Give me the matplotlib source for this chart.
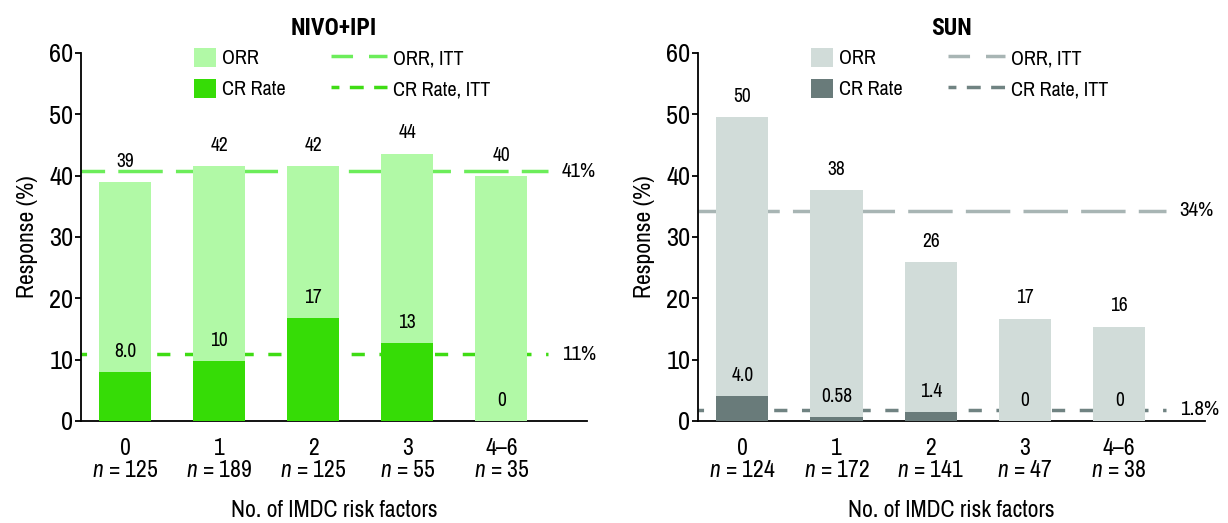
import matplotlib
matplotlib.use("Agg")
import matplotlib.pyplot as plt
from matplotlib.patches import Patch
from matplotlib.lines import Line2D

FONT = 'Archivo Narrow'
TITLE_FONT = ['Roboto Condensed', 'IBM Plex Sans Condensed', 'Fira Sans Condensed', FONT]
plt.rcParams['font.family'] = [FONT, 'DejaVu Sans']
plt.rcParams['mathtext.fontset'] = 'custom'
plt.rcParams['mathtext.it'] = FONT + ':italic'
plt.rcParams['mathtext.rm'] = FONT
plt.rcParams['lines.scale_dashes'] = False

# ------------------------------
# Data
# ------------------------------
risk_factors = ["0", "1", "2", "3", "4\u20136"]

nivo_n = [125, 189, 125, 55, 35]
nivo_orr = [38.9, 41.6, 41.5, 43.6, 40.0]
nivo_cr = [8.0, 9.8, 16.8, 12.7, 0.0]
nivo_orr_labels = ["39", "42", "42", "44", "40"]
nivo_cr_labels = ["8.0", "10", "17", "13", "0"]
nivo_orr_itt = 40.7
nivo_cr_itt = 10.9
nivo_itt_labels = ["41%", "11%"]

sun_n = [124, 172, 141, 47, 38]
sun_orr = [49.6, 37.6, 25.9, 16.7, 15.4]
sun_cr = [4.0, 0.58, 1.4, 0.0, 0.0]
sun_orr_labels = ["50", "38", "26", "17", "16"]
sun_cr_labels = ["4.0", "0.58", "1.4", "0", "0"]
sun_orr_itt = 34.3
sun_cr_itt = 1.8
sun_itt_labels = ["34%", "1.8%"]

NIVO_COLORS = dict(orr="#b1f9a6", cr="#36dc06", orr_line="#6ced5a", cr_line="#3fdc14")
SUN_COLORS = dict(orr="#d1dcd9", cr="#697b7a", orr_line="#a8b5b4", cr_line="#708382")

ORR_DASH = (15, (32, 9.5))
CR_DASH = (5.5, (9.5, 10.5))
ORR_LEG_DASH = (0, (15.5, 11.5))
CR_LEG_DASH = (4.3, (10, 7.5))


# ------------------------------
# One panel
# ------------------------------
def draw_panel(ax, title, n, orr, cr, orr_labels, cr_labels,
               orr_itt, cr_itt, itt_labels, colors):
    x = list(range(len(risk_factors)))
    w = 0.553
    ax.bar(x, orr, width=w, color=colors["orr"], zorder=3)
    ax.bar(x, cr, width=w, color=colors["cr"], zorder=4)

    ax.plot([-0.47, 4.5], [orr_itt, orr_itt], color=colors["orr_line"], lw=2.5,
            linestyle=ORR_DASH, zorder=2, dash_capstyle="butt")
    ax.plot([-0.47, 4.5], [cr_itt, cr_itt], color=colors["cr_line"], lw=2.5,
            linestyle=CR_DASH, zorder=2, dash_capstyle="butt")
    ax.text(4.64, orr_itt, itt_labels[0], ha="left", va="center", fontsize=15)
    ax.text(4.64, cr_itt, itt_labels[1], ha="left", va="center", fontsize=15)

    for xi, v, lab in zip(x, orr, orr_labels):
        ax.annotate(lab, (xi, v), xytext=(0, 8), textcoords="offset points",
                    ha="center", va="bottom", fontsize=14, zorder=5)
    for xi, v, lab in zip(x, cr, cr_labels):
        ax.annotate(lab, (xi, v), xytext=(0, 8), textcoords="offset points",
                    ha="center", va="bottom", fontsize=14, zorder=5)

    ax.set_xlim(-0.47, 4.91)
    ax.set_ylim(0, 60)
    ax.set_yticks(range(0, 61, 10))
    ax.set_xticks(x)
    ax.set_xticklabels([f"{r}\n$n$ = {k}" for r, k in zip(risk_factors, n)],
                       fontsize=17, linespacing=1.05)
    ax.tick_params(axis="x", length=0, pad=12)
    ax.tick_params(axis="y", length=4, width=1.3, pad=1.5, labelsize=19)

    for s in ["top", "right"]:
        ax.spines[s].set_visible(False)
    for s in ["left", "bottom"]:
        ax.spines[s].set_linewidth(1.3)

    ax.set_ylabel("Response (%)", fontsize=17, labelpad=8)
    ax.set_xlabel("No. of IMDC risk factors", fontsize=17, labelpad=14)
    ax.set_title(title, fontsize=17, fontweight="bold", pad=13, family=TITLE_FONT)

    fs = 14.5
    bar_handles = [Patch(facecolor=colors["orr"], edgecolor="none"),
                   Patch(facecolor=colors["cr"], edgecolor="none")]
    leg1 = ax.legend(bar_handles, ["ORR", "CR Rate"], loc="upper left",
                     bbox_to_anchor=(0.223, 1.014), frameon=False, fontsize=fs,
                     borderpad=0, borderaxespad=0, handlelength=1.1, handleheight=1.05,
                     handletextpad=0.3, labelspacing=0.55)
    ax.add_artist(leg1)
    line_handles = [Line2D([], [], color=colors["orr_line"], lw=2.5, linestyle=ORR_LEG_DASH),
                    Line2D([], [], color=colors["cr_line"], lw=2.5, linestyle=CR_LEG_DASH)]
    ax.legend(line_handles, ["ORR, ITT", "CR Rate, ITT"], loc="upper left",
              bbox_to_anchor=(0.494, 1.014), frameon=False, fontsize=fs,
              borderpad=0, borderaxespad=0, handlelength=2.8, handleheight=1.05,
              handletextpad=0.3, labelspacing=0.55)


# ------------------------------
# Figure
# ------------------------------
fig = plt.figure(figsize=(12.28, 5.23), dpi=100)
ax1 = fig.add_axes([81 / 1228, 1 - 421 / 523, 506 / 1228, 368 / 523])
ax2 = fig.add_axes([698 / 1228, 1 - 421 / 523, 507 / 1228, 368 / 523])

draw_panel(ax1, "NIVO+IPI", nivo_n, nivo_orr, nivo_cr, nivo_orr_labels, nivo_cr_labels,
           nivo_orr_itt, nivo_cr_itt, nivo_itt_labels, NIVO_COLORS)
draw_panel(ax2, "SUN", sun_n, sun_orr, sun_cr, sun_orr_labels, sun_cr_labels,
           sun_orr_itt, sun_cr_itt, sun_itt_labels, SUN_COLORS)

fig.savefig("out.png", dpi=100)
